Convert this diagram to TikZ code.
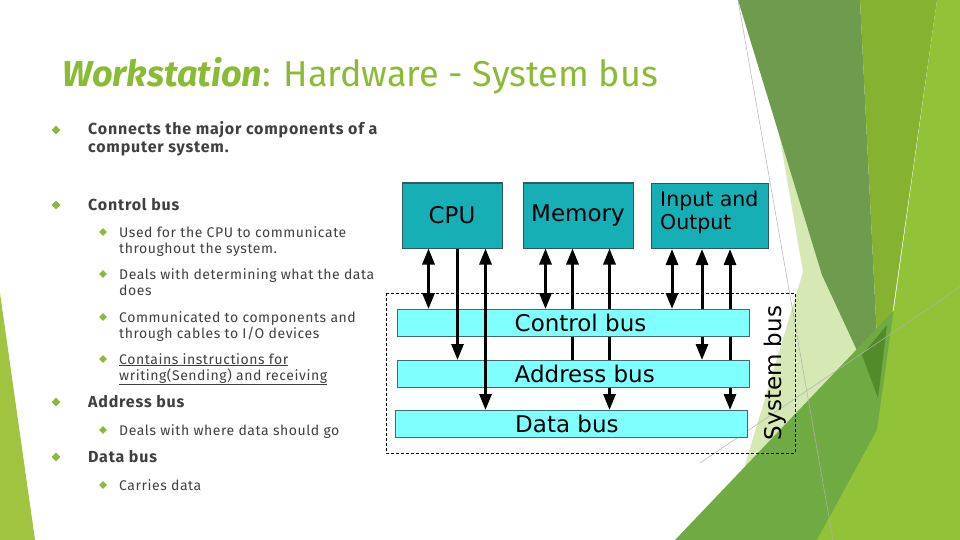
\documentclass[tikz,border=0pt]{standalone}
\usepackage{fontspec}
\setmainfont{Fira Sans}
\newfontfamily\bodyone[LetterSpace=5]{Fira Sans}
\newfontfamily\bodytwo[LetterSpace=4]{Fira Sans}
\newfontfamily\diagfont{DejaVu Sans}
\usetikzlibrary{arrows.meta,shapes.geometric,positioning}

\definecolor{titlegreen}{RGB}{138,187,52}
\definecolor{bulgreen}{RGB}{140,185,60}
\definecolor{textgray}{RGB}{64,64,64}
\definecolor{boxteal}{RGB}{22,175,181}
\definecolor{boxedge}{RGB}{50,90,90}
\definecolor{buscyan}{RGB}{128,255,255}
\definecolor{busedge}{RGB}{60,110,110}
\definecolor{palegreen}{RGB}{214,232,180}
\definecolor{darkgreen}{RGB}{110,155,78}
\definecolor{olivegreen}{RGB}{133,178,48}
\definecolor{midgreen}{RGB}{112,170,66}
\definecolor{limegreen}{RGB}{146,194,56}
\definecolor{deepgreen}{RGB}{82,140,42}
\definecolor{leftgreen}{RGB}{160,196,64}

\tikzset{
  lvlone/.style={anchor=base west, inner sep=0pt, text=textgray, align=left,
    font=\bodyone\fontsize{16}{18}\selectfont\bfseries},
  lvltwo/.style={anchor=base west, inner sep=0pt, text=textgray, align=left,
    font=\bodytwo\fontsize{14}{16}\selectfont},
  bulone/.style={diamond, fill=bulgreen, inner sep=0pt, minimum size=9pt},
  bultwo/.style={diamond, fill=bulgreen, inner sep=0pt, minimum size=8pt},
  unitbox/.style={draw=boxedge, fill=boxteal, line width=1pt, minimum height=65pt,
    inner sep=0pt, font=\diagfont\fontsize{23}{26}\selectfont},
  busbar/.style={draw=busedge, fill=buscyan, line width=1pt, minimum width=352pt,
    minimum height=27pt, inner sep=0pt},
  bustext/.style={anchor=west, inner sep=0pt, font=\diagfont\fontsize{23}{26}\selectfont},
  twoway/.style={line width=3pt,
    {Triangle[length=16pt,width=12pt]}-{Triangle[length=16pt,width=12pt]}},
  oneway/.style={line width=3pt, -{Triangle[length=16pt,width=12pt]}},
}

\begin{document}
\begin{tikzpicture}[x=1pt,y=-1pt]
  \useasboundingbox[fill=white] (0,0) rectangle (960,540);

  \fill[leftgreen] (0,293) -- (35,540) -- (0,540) -- cycle;
  \fill[palegreen] (778,127) -- (803,272) -- (733,505) -- (720,540) -- (880,540) -- (880,400) -- cycle;
  \fill[darkgreen] (738,0) -- (860,0) -- (880,400) -- (822,275) -- cycle;
  \fill[olivegreen] (860,0) -- (937,0) -- (880,400) -- cycle;
  \fill[midgreen] (675,540) -- (960,241) -- (960,540) -- cycle;
  \fill[limegreen] (937,0) -- (960,0) -- (960,540) -- (817,540) -- (877,430) -- cycle;
  \fill[deepgreen] (862,355) -- (887,325) -- (878,398) -- cycle;
  \draw[gray!60, line width=0.5pt] (738,0) -- (833,540);
  \draw[gray!60, line width=0.5pt] (700,463) -- (960,287);

  \node[anchor=base west, inner sep=0pt, text=titlegreen,
    font=\fontsize{36}{40}\selectfont] (title) at (62,87)
    {\textbf{\textit{Workstation}}: Hardware - System bus};

  \node[bulone] (b1) at (56,130) {};
  \node[lvlone] (t1) at (88,153) {Connects the major components of a\\computer system.};
  \node[bulone] (b2) at (56,205) {};
  \node[lvlone] (t2) at (88,210) {Control bus};
  \node[bultwo] (b3) at (103,232) {};
  \node[lvltwo] (t3) at (119,253) {Used for the CPU to communicate\\throughout the system.};
  \node[bultwo] (b4) at (103,274) {};
  \node[lvltwo] (t4) at (119,295) {Deals with determining what the data\\does};
  \node[bultwo] (b5) at (103,317) {};
  \node[lvltwo] (t5) at (119,338) {Communicated to components and\\through cables to I/O devices};
  \node[bultwo] (b6) at (103,359) {};
  \node[lvltwo] (t6) at (119,380) {\underline{Contains instructions for}\\\underline{writing(Sending) and receiving}};
  \node[bulone] (b7) at (56,402) {};
  \node[lvlone] (t7) at (88,407) {Address bus};
  \node[bultwo] (b8) at (103,430) {};
  \node[lvltwo] (t8) at (119,435) {Deals with where data should go};
  \node[bulone] (b9) at (56,457) {};
  \node[lvlone] (t9) at (88,462) {Data bus};
  \node[bultwo] (b10) at (103,485) {};
  \node[lvltwo] (t10) at (119,490) {Carries data};

  \draw[dashed, line width=0.8pt, dash pattern=on 3pt off 2pt] (386,293) rectangle (795,453);

  \node[unitbox, minimum width=100pt] (cpu) at (452,215.5) {CPU};
  \node[unitbox, minimum width=110pt] (mem) at (578,215.5) {Memory};
  \node[unitbox, minimum width=117pt, anchor=north west] (io) at (651,183) {};
  \node[anchor=north west, inner sep=0pt, align=left,
    font=\diagfont\fontsize{20.5}{23}\selectfont] (iotext) at ([xshift=9pt,yshift=-8pt]io.north west)
    {Input and\\Output};

  \coordinate (ca) at ([xshift=27pt]cpu.south west);
  \coordinate (cb) at ([xshift=56pt]cpu.south west);
  \coordinate (cc) at ([xshift=84pt]cpu.south west);
  \coordinate (ma) at ([xshift=23pt]mem.south west);
  \coordinate (mb) at ([xshift=50pt]mem.south west);
  \coordinate (mc) at ([xshift=87pt]mem.south west);
  \coordinate (ia) at ([xshift=21pt]io.south west);
  \coordinate (ib) at ([xshift=51pt]io.south west);
  \coordinate (ic) at ([xshift=79pt]io.south west);
  \coordinate (ctrltop) at (573,309);
  \coordinate (addrtop) at (573,360);
  \coordinate (datatop) at (571.5,410);

  \draw[twoway] (ca) -- (ca |- ctrltop);
  \draw[twoway] (ma) -- (ma |- ctrltop);
  \draw[oneway] (mb |- addrtop) -- (mb);
  \draw[twoway] (mc) -- (mc |- datatop);
  \draw[twoway] (ia) -- (ia |- ctrltop);
  \draw[twoway] (ib) -- (ib |- addrtop);
  \draw[twoway] (ic) -- (ic |- datatop);

  \node[busbar, anchor=north] (ctrlbus) at (ctrltop) {};
  \node[busbar, anchor=north] (addrbus) at (addrtop) {};
  \node[busbar, anchor=north] (databus) at (datatop) {};
  \node[bustext] (ctrltext) at ([xshift=118pt]ctrlbus.west) {Control bus};
  \node[bustext] (addrtext) at ([xshift=118pt]addrbus.west) {Address bus};
  \node[bustext] (datatext) at ([xshift=120pt]databus.west) {Data bus};
  \node[rotate=90, inner sep=0pt, font=\diagfont\fontsize{23}{26}\selectfont] (sysbus) at (775,373) {System bus};

  \draw[oneway] (cb) -- (cb |- addrbus.north);
  \draw[twoway] (cc) -- (cc |- databus.north);
\end{tikzpicture}
\end{document}
